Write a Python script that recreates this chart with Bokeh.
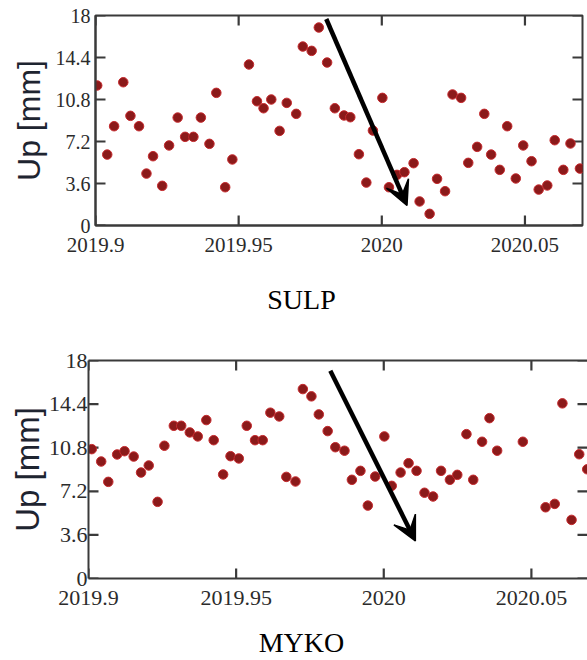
from bokeh.plotting import figure
from bokeh.layouts import column
from bokeh.models import (FixedTicker, LinearAxis, Arrow, VeeHead, Range1d,
                          ColumnDataSource, PrintfTickFormatter)
from bokeh.core.properties import value
from bokeh.embed import file_html
from bokeh.resources import INLINE

# ---------------- data ----------------
sulp_t = [2019.9006, 2019.9041, 2019.9065, 2019.9097, 2019.9122, 2019.9152, 2019.9178, 2019.9201,
          2019.9233, 2019.9257, 2019.9287, 2019.9313, 2019.9342, 2019.9368, 2019.9398, 2019.9422,
          2019.9453, 2019.9478, 2019.9536, 2019.9564, 2019.9587, 2019.9614, 2019.9643, 2019.9668,
          2019.9701, 2019.9724, 2019.9755, 2019.9780, 2019.9809, 2019.9836, 2019.9868, 2019.9890,
          2019.9920, 2019.9946, 2019.9969, 2020.0002, 2020.0025, 2020.0053, 2020.0079, 2020.0111,
          2020.0132, 2020.0167, 2020.0193, 2020.0221, 2020.0247, 2020.0277, 2020.0302, 2020.0333,
          2020.0358, 2020.0382, 2020.0412, 2020.0438, 2020.0468, 2020.0494, 2020.0523, 2020.0548,
          2020.0578, 2020.0604, 2020.0634, 2020.0659, 2020.0692]
sulp_up = [12.0, 6.08, 8.51, 12.28, 9.40, 8.51, 4.45, 5.94, 3.40, 6.86,
           9.25, 7.60, 7.60, 9.25, 7.00, 11.37, 3.28, 5.66, 13.80, 10.65,
           10.05, 10.80, 8.11, 10.51, 9.57, 15.34, 14.97, 16.97, 13.97, 10.05,
           9.43, 9.28, 6.11, 3.68, 8.14, 10.94, 3.28, 4.34, 4.57, 5.34,
           2.06, 1.00, 4.00, 2.94, 11.23, 10.94, 5.37, 6.74, 9.57, 6.08,
           4.77, 8.51, 4.03, 6.86, 5.51, 3.08, 3.43, 7.31, 4.77, 7.03, 4.88]

myko_t = [2019.9011, 2019.9043, 2019.9067, 2019.9097, 2019.9122, 2019.9153, 2019.9178, 2019.9204,
          2019.9234, 2019.9257, 2019.9289, 2019.9314, 2019.9343, 2019.9370, 2019.9399, 2019.9424,
          2019.9456, 2019.9481, 2019.9509, 2019.9536, 2019.9564, 2019.9590, 2019.9616, 2019.9646,
          2019.9670, 2019.9701, 2019.9726, 2019.9755, 2019.9780, 2019.9810, 2019.9836, 2019.9867,
          2019.9892, 2019.9921, 2019.9946, 2019.9971, 2020.0002, 2020.0027, 2020.0057, 2020.0084,
          2020.0111, 2020.0138, 2020.0167, 2020.0194, 2020.0224, 2020.0249, 2020.0280, 2020.0303,
          2020.0333, 2020.0358, 2020.0384, 2020.0471, 2020.0548, 2020.0579, 2020.0605, 2020.0636,
          2020.0662, 2020.0689]
myko_up = [10.68, 9.66, 7.98, 10.24, 10.51, 10.07, 8.75, 9.33, 6.33, 10.96,
           12.61, 12.61, 12.06, 11.73, 13.08, 11.42, 8.59, 10.10, 9.91, 12.61,
           11.42, 11.42, 13.69, 13.38, 8.39, 8.01, 15.64, 15.04, 13.55, 12.17,
           10.84, 10.55, 8.15, 8.89, 6.02, 8.42, 11.73, 7.65, 8.75, 9.52,
           8.89, 7.08, 6.77, 8.89, 8.15, 8.56, 11.92, 8.15, 11.29, 13.24,
           10.55, 11.29, 5.88, 6.16, 14.46, 4.84, 10.26, 9.02]

# arrows: [x_start, y_start, x_end, y_end]
sulp_arrow = [2019.9806, 17.70, 2020.0088, 1.71]
myko_arrow = [2019.9819, 17.16, 2020.0107, 3.10]

x_ticks = [2019.9, 2019.95, 2020.0, 2020.05]
x_tick_labels = ["2019.9", "2019.95", "2020", "2020.05"]
y_ticks = [0, 3.6, 7.2, 10.8, 14.4, 18]
y_tick_labels = ["0", "3.6", "7.2", "10.8", "14.4", "18"]

titles = ["SULP", "MYKO"]

AX = "#3a3a3a"
TICKC = "#2b2b2b"
X0, Y0, Y1 = 2019.9, 0.0, 18.0
W = 587
TICK_PX = 10     # tick length (px)
TICK_HW = 1.1    # half tick thickness (px)


def style_axis(ax, ticks, labels):
    ax.ticker = FixedTicker(ticks=ticks)
    ax.formatter = PrintfTickFormatter(format="%g")
    ax.major_label_overrides = {float(t): l for t, l in zip(ticks, labels)}
    ax.minor_tick_line_color = None
    ax.major_tick_in = 0
    ax.major_tick_out = 0
    ax.major_tick_line_color = None
    ax.axis_line_color = AX
    ax.axis_line_width = 2


def make_panel(t, up, arrow, height, x_end, min_left, min_right, min_top, min_bottom,
               full_frame, xfont, yfont, ylab_font, ytick_standoff, ylab_standoff):
    p = figure(width=W, height=height, output_backend="svg", toolbar_location=None,
               x_range=Range1d(X0, x_end), y_range=Range1d(Y0, Y1),
               min_border_left=min_left, min_border_right=min_right,
               min_border_top=min_top, min_border_bottom=min_bottom,
               background_fill_color="white", border_fill_color="white")
    p.frame_align = False
    p.xgrid.grid_line_color = None
    p.ygrid.grid_line_color = None

    xa = p.below[0]
    style_axis(xa, x_ticks, x_tick_labels)
    xa.major_label_text_font = "Liberation Serif"
    xa.major_label_text_font_size = xfont
    xa.major_label_text_color = TICKC
    xa.major_label_standoff = 12

    ya = p.left[0]
    style_axis(ya, y_ticks, y_tick_labels)
    ya.major_label_text_font = "Liberation Serif"
    ya.major_label_text_font_size = yfont
    ya.major_label_text_color = TICKC
    ya.major_label_standoff = ytick_standoff
    ya.axis_label = "Up [mm]"
    ya.axis_label_text_font = "Liberation Sans"
    ya.axis_label_text_font_size = ylab_font
    ya.axis_label_text_font_style = "normal"
    ya.axis_label_text_color = "#1e2430"
    ya.axis_label_standoff = ylab_standoff

    if full_frame:
        p.outline_line_color = AX
        p.outline_line_width = 2
        p.outline_line_alpha = 1
    else:
        p.outline_line_color = None
        top_line = LinearAxis(ticker=FixedTicker(ticks=[]), major_tick_out=0, major_tick_in=0,
                              minor_tick_out=0, minor_tick_in=0,
                              axis_line_color=AX, axis_line_width=2)
        p.add_layout(top_line, "above")

    # inward tick marks: thin filled quads running from each frame edge into the plot
    frame_w = W - min_left - min_right
    frame_h = height - min_top - min_bottom
    px_x = (x_end - X0) / frame_w
    px_y = (Y1 - Y0) / frame_h
    n_x, n_y = len(x_ticks), len(y_ticks)
    q_kw = dict(fill_color=AX, line_color=None)
    xl = [v - TICK_HW * px_x for v in x_ticks]
    xr = [v + TICK_HW * px_x for v in x_ticks]
    p.quad(left=xl, right=xr, bottom=[Y0] * n_x, top=[Y0 + TICK_PX * px_y] * n_x, **q_kw)
    p.quad(left=xl, right=xr, bottom=[Y1 - TICK_PX * px_y] * n_x, top=[Y1] * n_x, **q_kw)
    yb = [v - TICK_HW * px_y for v in y_ticks]
    yt = [v + TICK_HW * px_y for v in y_ticks]
    p.quad(left=[X0] * n_y, right=[X0 + TICK_PX * px_x] * n_y, bottom=yb, top=yt, **q_kw)
    p.quad(left=[x_end - TICK_PX * px_x] * n_y, right=[x_end] * n_y, bottom=yb, top=yt, **q_kw)

    src = ColumnDataSource(dict(t=t, up=up))
    p.scatter("t", "up", source=src, size=9.5, fill_color="#8b1a1a",
              line_color="#c62a2e", line_width=1)

    p.add_layout(Arrow(x_start=arrow[0], y_start=arrow[1], x_end=arrow[2], y_end=arrow[3],
                       line_color="black", line_width=4.5,
                       end=VeeHead(size=24, fill_color="black", line_color="black",
                                   line_width=1.5)))
    return p


def make_caption(text, height, baseline_from_top, center_x=301):
    c = figure(width=W, height=height, output_backend="svg", toolbar_location=None,
               x_range=Range1d(0, W), y_range=Range1d(0, height),
               x_axis_type=None, y_axis_type=None,
               min_border_left=0, min_border_right=0, min_border_top=0, min_border_bottom=0,
               outline_line_color=None, background_fill_color="white",
               border_fill_color="white")
    c.frame_align = False
    c.grid.visible = False
    c.text(x=[center_x], y=[height - baseline_from_top], text=[text],
           text_font=value("Liberation Serif"), text_font_size=value("28px"),
           text_align="center", text_baseline="alphabetic", text_color="black")
    return c


p1 = make_panel(sulp_t, sulp_up, sulp_arrow, height=262, x_end=2020.0701,
                min_left=95, min_right=5, min_top=15, min_bottom=37, full_frame=True,
                xfont="21px", yfont="20px", ylab_font="32px",
                ytick_standoff=5, ylab_standoff=6)
c1 = make_caption(titles[0], height=68, baseline_from_top=37)
p2 = make_panel(myko_t, myko_up, myko_arrow, height=285, x_end=2020.0690,
                min_left=88, min_right=0, min_top=30, min_bottom=37, full_frame=False,
                xfont="22px", yfont="22px", ylab_font="33px",
                ytick_standoff=1, ylab_standoff=0)
c2 = make_caption(titles[1], height=45, baseline_from_top=27)

layout = column(p1, c1, p2, c2, spacing=0)
open("out.html", "w").write(file_html(layout, INLINE))
